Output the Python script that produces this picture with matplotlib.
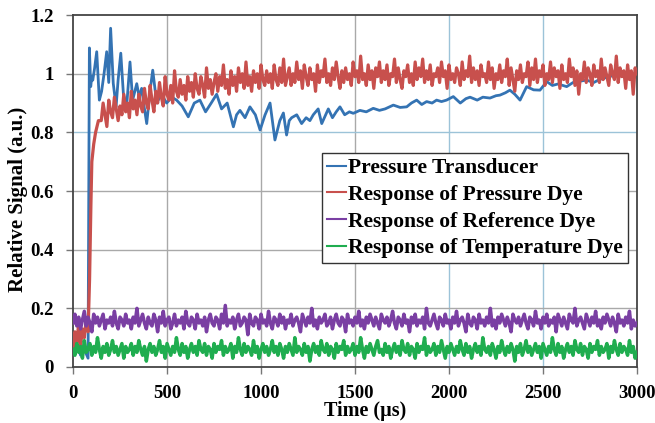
import numpy as np
import matplotlib
matplotlib.use("Agg")
import matplotlib.pyplot as plt

# ---------------- data ----------------
transducer_t = [0, 20, 40, 60, 80, 87, 94, 100, 105, 115, 126, 140, 152, 165, 179, 190, 200, 214, 229, 240,
                254, 268, 285, 303, 317, 339, 352, 365, 380, 392, 410, 424, 445, 470, 498, 525, 551, 580, 613, 645,
                675, 705, 735, 764, 790, 820, 853, 870, 888, 915, 941, 970, 995, 1021, 1048, 1074, 1100, 1119, 1136, 1150,
                1163, 1190, 1216, 1240, 1260, 1278, 1304, 1323, 1358, 1380, 1400, 1420, 1445, 1470, 1491, 1526, 1560, 1597, 1630, 1660,
                1704, 1740, 1775, 1800, 1828, 1855, 1881, 1910, 1934, 1960, 1987, 2023, 2060, 2090, 2112, 2150, 2180, 2218, 2250, 2271,
                2300, 2324, 2350, 2378, 2413, 2450, 2484, 2520, 2550, 2580, 2626, 2660, 2700, 2732, 2770, 2800, 2820, 2850, 2892, 2930,
                2960, 3000]
transducer_v = [0.05, 0.08, 0.04, 0.06, 0.03, 1.088, 0.956, 0.99, 0.978, 1.02, 1.075, 0.91, 0.94, 1.0, 1.075, 0.97, 1.155, 0.967, 0.887, 0.98,
                1.07, 0.93, 0.887, 1.04, 0.91, 0.966, 0.92, 0.95, 0.88, 0.83, 0.944, 1.012, 0.9, 0.93, 0.9, 0.92, 0.91, 0.89, 0.853, 0.9,
                0.91, 0.87, 0.9, 0.93, 0.88, 0.9, 0.819, 0.86, 0.875, 0.85, 0.887, 0.86, 0.808, 0.859, 0.9, 0.774, 0.84, 0.866, 0.791, 0.84,
                0.85, 0.86, 0.83, 0.85, 0.84, 0.86, 0.88, 0.83, 0.88, 0.85, 0.87, 0.887, 0.86, 0.87, 0.865, 0.875, 0.87, 0.882, 0.875, 0.88,
                0.893, 0.885, 0.887, 0.9, 0.91, 0.895, 0.905, 0.9, 0.91, 0.905, 0.91, 0.922, 0.9, 0.915, 0.92, 0.91, 0.92, 0.917, 0.925, 0.927,
                0.935, 0.944, 0.93, 0.91, 0.956, 0.945, 0.944, 0.973, 0.96, 0.965, 0.956, 0.97, 0.975, 0.978, 0.97, 0.98, 0.984, 0.99, 0.996, 0.99,
                1.0, 1.0]

pdye_early_t = [0, 10, 20, 30, 40, 50, 60, 70, 80, 88, 95, 100, 110, 120, 135]
pdye_early_v = [0.06, 0.12, 0.08, 0.15, 0.07, 0.13, 0.10, 0.16, 0.12, 0.30, 0.55, 0.70, 0.76, 0.80, 0.84]
# 150 .. 3000 us, every 10 us
pdye_v = [0.84, 0.90, 0.86, 0.82, 0.91, 0.87, 0.85, 0.92, 0.88, 0.84,
          0.89, 0.86, 0.93, 0.87, 0.90, 0.85, 0.94, 0.88, 0.91, 0.86,
          0.93, 0.89, 0.87, 0.95, 0.90, 0.88, 0.96, 0.91, 0.87, 0.94,
          0.90, 0.97, 0.92, 0.89, 0.99, 0.93, 0.91, 0.96, 0.90, 1.01,
          0.94, 0.92, 0.98, 0.93, 0.96, 0.91, 0.99, 0.94, 0.97, 0.92,
          1.00, 0.95, 0.93, 0.99, 0.96, 0.92, 1.02, 0.95, 0.98, 0.93,
          0.97, 1.00, 0.94, 0.99, 0.96, 1.03, 0.95, 0.98, 0.93, 1.01,
          0.96, 0.99, 0.94, 1.02, 0.97, 1.00, 0.95, 1.04, 0.96, 0.99,
          0.94, 1.01, 0.97, 1.00, 0.95, 1.03, 0.98, 0.96, 1.01, 0.97,
          1.00, 0.95, 1.03, 0.98, 0.96, 1.02, 0.97, 1.05, 0.96, 0.99,
          1.02, 0.96, 1.00, 0.97, 1.04, 0.98, 1.01, 0.95, 1.03, 0.99,
          0.96, 1.02, 0.98, 1.00, 0.94, 1.03, 0.97, 1.01, 0.99, 1.05,
          0.97, 1.00, 0.96, 1.02, 0.98, 1.04, 0.99, 0.95, 1.01, 0.97,
          1.02, 0.98, 1.00, 0.96, 1.04, 0.99, 1.01, 0.97, 1.06, 0.98,
          1.00, 0.96, 1.03, 0.98, 1.01, 0.95, 1.02, 0.99, 1.04, 0.97,
          1.01, 0.98, 1.03, 0.96, 1.00, 0.99, 1.05, 0.97, 1.02, 0.98,
          0.95, 1.01, 0.99, 1.03, 0.97, 1.00, 0.96, 1.04, 0.98, 1.02,
          0.99, 1.05, 0.97, 1.01, 0.98, 1.03, 0.96, 1.00, 0.99, 1.02,
          0.97, 1.04, 0.99, 1.01, 0.95, 1.03, 0.98, 1.00, 0.97, 1.02,
          1.00, 0.96, 1.04, 0.98, 1.01, 0.99, 1.06, 0.97, 1.02, 0.98,
          1.01, 0.96, 1.03, 0.99, 1.00, 0.97, 1.04, 0.98, 1.02, 0.95,
          1.00, 0.98, 1.03, 0.97, 1.01, 0.99, 1.05, 0.96, 1.02, 0.98,
          0.94, 1.01, 0.98, 1.03, 0.97, 1.00, 0.99, 1.04, 0.96, 1.02,
          0.98, 1.05, 0.97, 1.01, 0.99, 1.03, 0.96, 1.00, 0.98, 1.04,
          0.97, 1.02, 0.99, 1.01, 0.95, 1.03, 0.98, 1.00, 0.97, 1.05,
          0.99, 1.02, 0.96, 1.01, 0.93, 1.00, 0.98, 1.04, 0.97, 1.02,
          1.00, 0.96, 1.03, 0.99, 1.01, 0.97, 1.05, 0.98, 1.02, 0.99,
          0.96, 1.03, 1.00, 0.98, 1.06, 0.97, 1.02, 0.99, 1.01, 0.95,
          1.03, 0.98, 1.01, 0.93, 1.02, 1.00]

# 0 .. 3000 us, every 10 us
refdye_v = [0.15, 0.18, 0.14, 0.17, 0.13, 0.16, 0.19, 0.14, 0.17, 0.15,
            0.12, 0.18, 0.15, 0.17, 0.14, 0.16, 0.18, 0.13, 0.16, 0.15,
            0.17, 0.14, 0.19, 0.15, 0.13, 0.17, 0.16, 0.14, 0.18, 0.15,
            0.16, 0.13, 0.17, 0.15, 0.20, 0.14, 0.16, 0.18, 0.15, 0.13,
            0.17, 0.15, 0.14, 0.18, 0.16, 0.12, 0.17, 0.15, 0.19, 0.14,
            0.16, 0.17, 0.13, 0.15, 0.18, 0.14, 0.16, 0.15, 0.17, 0.13,
            0.19, 0.15, 0.14, 0.17, 0.16, 0.13, 0.18, 0.15, 0.16, 0.14,
            0.17, 0.12, 0.16, 0.18, 0.15, 0.14, 0.17, 0.16, 0.13, 0.18,
            0.15, 0.21, 0.14, 0.16, 0.15, 0.17, 0.13, 0.16, 0.18, 0.14,
            0.15, 0.17, 0.16, 0.11, 0.18, 0.15, 0.14, 0.17, 0.16, 0.13,
            0.18, 0.15, 0.16, 0.14, 0.19, 0.15, 0.13, 0.17, 0.16, 0.14,
            0.18, 0.15, 0.17, 0.13, 0.16, 0.15, 0.18, 0.14, 0.16, 0.17,
            0.15, 0.12, 0.18, 0.16, 0.14, 0.17, 0.15, 0.20, 0.14, 0.16,
            0.13, 0.17, 0.15, 0.16, 0.18, 0.14, 0.15, 0.17, 0.13, 0.16,
            0.18, 0.15, 0.14, 0.17, 0.16, 0.12, 0.18, 0.15, 0.16, 0.14,
            0.17, 0.15, 0.19, 0.14, 0.16, 0.13, 0.17, 0.15, 0.18, 0.16,
            0.14, 0.17, 0.15, 0.13, 0.18, 0.16, 0.15, 0.17, 0.14, 0.16,
            0.19, 0.15, 0.13, 0.17, 0.16, 0.14, 0.18, 0.15, 0.16, 0.12,
            0.17, 0.15, 0.18, 0.14, 0.16, 0.15, 0.17, 0.13, 0.20, 0.15,
            0.14, 0.16, 0.18, 0.15, 0.13, 0.17, 0.16, 0.14, 0.18, 0.15,
            0.16, 0.13, 0.17, 0.15, 0.19, 0.14, 0.16, 0.17, 0.15, 0.12,
            0.18, 0.15, 0.14, 0.17, 0.16, 0.13, 0.18, 0.15, 0.16, 0.14,
            0.17, 0.15, 0.20, 0.14, 0.16, 0.13, 0.17, 0.15, 0.18, 0.16,
            0.14, 0.17, 0.15, 0.12, 0.18, 0.16, 0.15, 0.17, 0.14, 0.16,
            0.18, 0.15, 0.13, 0.17, 0.16, 0.14, 0.19, 0.15, 0.16, 0.13,
            0.17, 0.15, 0.18, 0.14, 0.16, 0.15, 0.17, 0.12, 0.18, 0.16,
            0.14, 0.17, 0.15, 0.13, 0.18, 0.16, 0.15, 0.20, 0.14, 0.16,
            0.17, 0.15, 0.13, 0.18, 0.16, 0.14, 0.17, 0.15, 0.19, 0.14,
            0.16, 0.13, 0.17, 0.15, 0.18, 0.16, 0.14, 0.17, 0.15, 0.12,
            0.18, 0.15, 0.16, 0.14, 0.17, 0.15, 0.19, 0.13, 0.16, 0.14,
            0.15]

# 0 .. 3000 us, every 10 us
tempdye_v = [0.06, 0.04, 0.08, 0.05, 0.07, 0.03, 0.09, 0.05, 0.06, 0.08,
             0.04, 0.07, 0.05, 0.10, 0.06, 0.03, 0.07, 0.05, 0.08, 0.04,
             0.06, 0.09, 0.05, 0.07, 0.04, 0.06, 0.08, 0.03, 0.07, 0.05,
             0.06, 0.08, 0.04, 0.07, 0.05, 0.09, 0.06, 0.04, 0.07, 0.02,
             0.06, 0.08, 0.05, 0.07, 0.04, 0.06, 0.09, 0.05, 0.07, 0.03,
             0.08, 0.06, 0.04, 0.07, 0.05, 0.10, 0.06, 0.04, 0.08, 0.05,
             0.07, 0.03, 0.06, 0.08, 0.05, 0.07, 0.04, 0.09, 0.06, 0.05,
             0.08, 0.04, 0.07, 0.06, 0.03, 0.08, 0.05, 0.07, 0.06, 0.09,
             0.04, 0.07, 0.05, 0.06, 0.08, 0.03, 0.07, 0.05, 0.10, 0.06,
             0.04, 0.08, 0.05, 0.07, 0.06, 0.04, 0.09, 0.05, 0.07, 0.03,
             0.06, 0.08, 0.05, 0.07, 0.04, 0.06, 0.09, 0.05, 0.07, 0.04,
             0.08, 0.06, 0.03, 0.07, 0.05, 0.08, 0.06, 0.04, 0.10, 0.05,
             0.07, 0.06, 0.04, 0.08, 0.05, 0.07, 0.02, 0.06, 0.08, 0.05,
             0.07, 0.04, 0.09, 0.06, 0.05, 0.08, 0.04, 0.07, 0.06, 0.03,
             0.08, 0.05, 0.07, 0.06, 0.09, 0.04, 0.07, 0.05, 0.06, 0.08,
             0.04, 0.07, 0.05, 0.10, 0.06, 0.03, 0.07, 0.05, 0.08, 0.06,
             0.04, 0.07, 0.09, 0.05, 0.06, 0.04, 0.08, 0.05, 0.07, 0.03,
             0.06, 0.08, 0.05, 0.07, 0.04, 0.09, 0.06, 0.05, 0.08, 0.04,
             0.07, 0.06, 0.03, 0.08, 0.05, 0.07, 0.06, 0.10, 0.04, 0.07,
             0.05, 0.06, 0.08, 0.04, 0.07, 0.05, 0.09, 0.06, 0.03, 0.07,
             0.05, 0.08, 0.06, 0.04, 0.07, 0.05, 0.09, 0.06, 0.04, 0.08,
             0.05, 0.07, 0.03, 0.06, 0.08, 0.05, 0.07, 0.04, 0.10, 0.06,
             0.05, 0.07, 0.04, 0.08, 0.06, 0.03, 0.07, 0.05, 0.09, 0.06,
             0.04, 0.07, 0.05, 0.08, 0.06, 0.02, 0.07, 0.05, 0.08, 0.04,
             0.06, 0.09, 0.05, 0.07, 0.04, 0.06, 0.08, 0.05, 0.07, 0.03,
             0.08, 0.06, 0.04, 0.07, 0.05, 0.10, 0.06, 0.04, 0.08, 0.05,
             0.07, 0.03, 0.06, 0.08, 0.05, 0.07, 0.04, 0.09, 0.06, 0.05,
             0.08, 0.04, 0.07, 0.06, 0.03, 0.08, 0.05, 0.07, 0.06, 0.09,
             0.04, 0.07, 0.05, 0.06, 0.08, 0.03, 0.07, 0.05, 0.09, 0.06,
             0.04, 0.08, 0.05, 0.07, 0.06, 0.04, 0.09, 0.05, 0.07, 0.03,
             0.05]

labels = ["Pressure Transducer", "Response of Pressure Dye",
          "Response of Reference Dye", "Response of Temperature Dye"]
xticks = [0, 500, 1000, 1500, 2000, 2500, 3000]
yticks = [0, 0.2, 0.4, 0.6, 0.8, 1.0, 1.2]
ytick_labels = ["0", "0.2", "0.4", "0.6", "0.8", "1", "1.2"]

# sampling grids
pdye_t = list(pdye_early_t) + list(np.arange(150, 3001, 10))
dye_t = np.arange(0, 3001, 10)

# ---------------- plot ----------------
plt.rcParams['font.family'] = ['Liberation Serif', 'DejaVu Serif']
plt.rcParams['font.weight'] = 'bold'

fig = plt.figure(figsize=(6.55, 4.23), dpi=100)
ax = fig.add_axes([0.1115, 0.1324, 0.861, 0.832])

# gridlines
vgrid_colors = {500: '#a9a9a9', 1000: '#a9a9a9', 1500: '#a9a9a9', 2000: '#9cc3d8', 2500: '#9cc3d8'}
hgrid_colors = {0.2: '#a9a9a9', 0.4: '#a9a9a9', 0.6: '#a9a9a9', 0.8: '#9cc3d8', 1.0: '#a9a9a9'}
for xv, c in vgrid_colors.items():
    ax.axvline(xv, color=c, lw=1.0, zorder=0)
for yv, c in hgrid_colors.items():
    ax.axhline(yv, color=c, lw=1.0, zorder=0)

c_blue, c_red, c_purple, c_green = '#3473b3', '#c8504d', '#7a3fa3', '#1fad4f'
ax.plot(transducer_t, transducer_v, color=c_blue, lw=2.0, label=labels[0], zorder=2)
ax.plot(pdye_t, pdye_early_v + pdye_v, color=c_red, lw=2.3, label=labels[1], zorder=3)
ax.plot(dye_t, refdye_v, color=c_purple, lw=2.5, label=labels[2], zorder=4)
ax.plot(dye_t, tempdye_v, color=c_green, lw=2.5, label=labels[3], zorder=5)

ax.set_xlim(0, 3000)
ax.set_ylim(0, 1.2)
ax.set_xticks(xticks)
ax.set_xticklabels([str(v) for v in xticks], fontsize=13.5, fontweight='bold')
ax.set_yticks(yticks)
ax.set_yticklabels(ytick_labels, fontsize=13.5, fontweight='bold')
ax.tick_params(axis='both', direction='out', length=5, width=1, color='#777777')
ax.tick_params(axis='y', pad=9)
ax.tick_params(axis='x', pad=8)

for s in ax.spines.values():
    s.set_color('#444444')
    s.set_linewidth(1.3)

ax.set_xlabel('Time (µs)', fontsize=14.5, fontweight='bold')
ax.set_ylabel('Relative Signal (a.u.)', fontsize=15, fontweight='bold')
ax.xaxis.set_label_coords(0.518, -0.097)
ax.yaxis.set_label_coords(-0.080, 0.477)

leg = ax.legend(loc='upper left', bbox_to_anchor=(0.4415, 0.608),
                prop={'weight': 'bold', 'size': 15.5}, handlelength=0.85, handletextpad=0.1,
                borderpad=0.25, labelspacing=0.3, fancybox=False, framealpha=1,
                borderaxespad=0)
leg.get_frame().set_edgecolor('#333333')
leg.get_frame().set_linewidth(1.0)
for line in leg.get_lines():
    line.set_linewidth(1.5)

fig.savefig('out.png', dpi=100)
